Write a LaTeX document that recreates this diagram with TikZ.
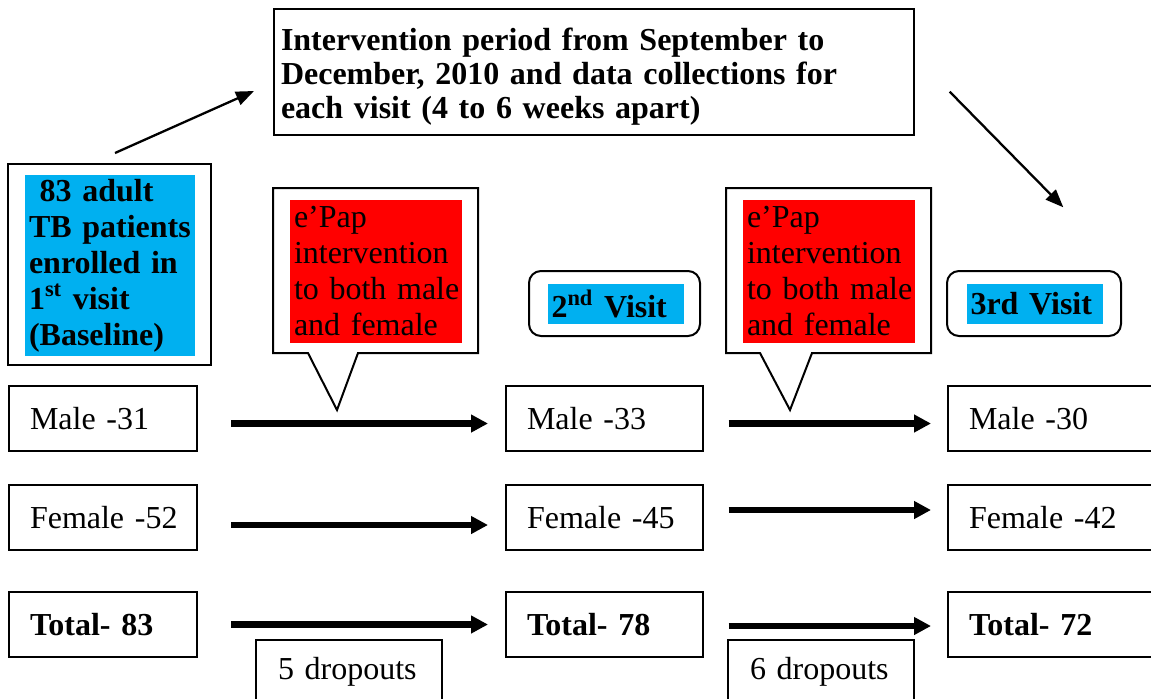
\documentclass[tikz,border=0pt]{standalone}
\usepackage{fontspec}
\setmainfont{Liberation Serif}
\usetikzlibrary{positioning,arrows.meta}
\definecolor{skyblue}{RGB}{0,176,240}

\begin{document}
\begin{tikzpicture}[x=0.5pt,y=-0.5pt]
    \tikzstyle{every node}=[font=\fontsize{16}{18}\selectfont,inner sep=0,rectangle]
    \tikzstyle{bold}=[font=\fontsize{16}{18}\selectfont\bfseries]
    \tikzstyle{box}=[draw,line width=1pt]
    \tikzstyle{rowbox}=[box,anchor=west,minimum height=32.5pt,inner xsep=10.5pt,align=left]
    \tikzstyle{colA}=[text width=73pt]
    \tikzstyle{colB}=[text width=77.5pt]
    \tikzstyle{colC}=[text width=89pt]
    \tikzstyle{dropbox}=[box,anchor=north west,minimum height=32pt,text width=71pt,inner xsep=11pt,align=left]
    \tikzstyle{callout}=[line width=1pt,line join=miter]
    \tikzstyle{pap}=[fill=red,text width=82pt,inner xsep=2pt,minimum height=71.5pt,align=left]
    \tikzstyle{visit}=[box,rounded corners=6pt,minimum width=85.5pt,minimum height=32.5pt]
    \tikzstyle{visittxt}=[bold,fill=skyblue,text width=64.5pt,inner xsep=1.75pt,minimum height=20pt,align=left]
    \tikzstyle{flow}=[->,>={Triangle[length=8.5pt,width=8.5pt]},line width=3.25pt]
    \tikzstyle{link}=[->,>={Triangle[length=9pt,width=7pt]},line width=1.15pt]
    {
        \useasboundingbox (0,0) rectangle (1151,698);
        \clip (0,0) rectangle (1151,698);

        \node[box,anchor=north west,minimum width=320pt,minimum height=63pt,text width=313pt,inner xsep=3.5pt,align=left,font=\fontsize{16}{17}\selectfont\bfseries] (period) at (273,7.5)
            {\rule{0pt}{16pt}Intervention~period~from~September~to\\ December,~2010~and~data~collections~for\\ each~visit~(4~to~6~weeks~apart)};

        \node[box,minimum width=101.5pt,minimum height=100.5pt] (base) at (109.5,264.5) {};
        \node[bold,fill=skyblue,text width=81pt,inner xsep=2pt,minimum height=90.5pt,align=left] (basetxt) at (110,265.5)
            {~83~adult\\ TB~patients\\ enrolled~in\\ 1\textsuperscript{st}~visit\\ (Baseline)};

        \draw[callout] (273,188) -- (478,188) -- (478,353) -- (358,353) -- (337,410) -- (308,353) -- (273,353) -- cycle;
        \node[pap] (pap1) at (376,271.5) {e’Pap\\ intervention\\ to~both~male\\ and~female};
        \draw[callout] (726,188) -- (931,188) -- (931,353) -- (812,353) -- (790,410) -- (760,353) -- (726,353) -- cycle;
        \node[pap] (pap2) at (829,271.5) {e’Pap\\ intervention\\ to~both~male\\ and~female};

        \node[visit] (v2) at (614.5,303.5) {};
        \node[visittxt] (v2txt) at (616,303.75) {2\textsuperscript{nd}~Visit};
        \node[visit,minimum width=87pt] (v3) at (1034,303.5) {};
        \node[visittxt] (v3txt) at (1035,303.5) {3rd~Visit};

        \node[rowbox,colA] (m1) at (8,418.5) {\mbox{Male -31}};
        \node[rowbox,colA,below=16pt of m1] (f1) {\mbox{Female -52}};
        \node[rowbox,colA,below=20pt of f1] (t1) {\mbox{\textbf{Total- 83}}};

        \node[rowbox,colB] (m2) at (505,418.5) {\mbox{Male -33}};
        \node[rowbox,colB,below=16pt of m2] (f2) {\mbox{Female -45}};
        \node[rowbox,colB,below=20pt of f2] (t2) {\mbox{\textbf{Total- 78}}};

        \node[rowbox,colC] (m3) at (947,418.5) {\mbox{Male -30}};
        \node[rowbox,colC,below=16pt of m3] (f3) {\mbox{Female -42}};
        \node[rowbox,colC,below=20pt of f3] (t3) {\mbox{\textbf{Total- 72}}};

        \node[dropbox] (d1) at (255,639) {5~dropouts};
        \node[dropbox] (d2) at (727,639) {6~dropouts};

        \path[flow,shorten <=16.5pt,shorten >=8.5pt]
            ([yshift=-2.5pt]m1.east) edge ([yshift=-2.5pt]m2.west)
            ([yshift=-3.75pt]f1.east) edge ([yshift=-3.75pt]f2.west)
            (t1.east) edge (t2.west);
        \path[flow,shorten <=12.25pt,shorten >=8pt]
            ([yshift=-2.5pt]m2.east) edge ([yshift=-2.5pt]m3.west)
            ([yshift=3.75pt]f2.east) edge ([yshift=3.75pt]f3.west)
            ([yshift=-0.75pt]t2.east) edge ([yshift=-0.75pt]t3.west);

        \draw[link] ([xshift=2.75pt,yshift=5pt]base.north) -- ([xshift=-9.5pt,yshift=-9.75pt]period.west);
        \draw[link] ([xshift=17.35pt,yshift=-10.1pt]period.east) -- ([xshift=14.65pt,yshift=31.35pt]v3.north);
    }
\end{tikzpicture}
\end{document}
